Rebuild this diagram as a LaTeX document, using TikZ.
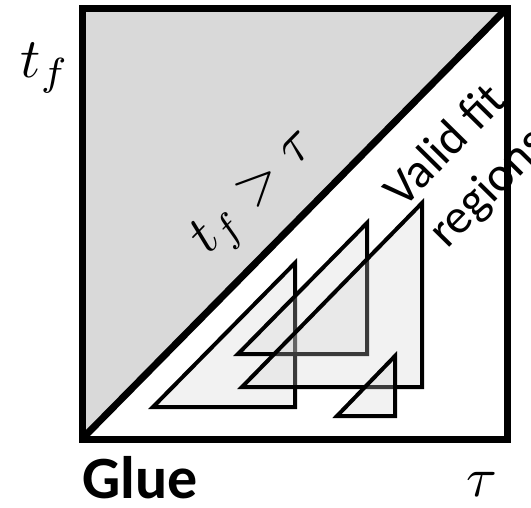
\documentclass[tikz,border=0pt]{standalone}
\usepackage{fontspec}
\setmainfont{Carlito}
\usepackage{tikz}

\begin{document}
\begin{tikzpicture}[x=1pt, y=-1pt,
		rahmen/.style={line width=7pt, line join=miter},
		fitreg/.style={draw=black, line width=4pt, fill=black!18, fill opacity=0.28},
		mathlbl/.style={inner sep=0pt, scale=5.6},
		txtlbl/.style={inner sep=0pt, font=\fontsize{49}{60}\selectfont}]
		%Bildbereich
		\useasboundingbox (0,0) rectangle (531,507);
		% Ecken des Quadrats
		\coordinate (ul) at (82,8);
		\coordinate (ur) at (507,8);
		\coordinate (lr) at (507,439);
		\coordinate (ll) at (82,439);
		%Bereich t_f > tau
		\fill[black!15] (ll) -- (ul) -- (ur) -- cycle;
		%Fit-Bereiche zeichnen
		\foreach \x/\y/\w/\h in {295/407/142/144, 367/354/129/131, 422/387/180/184, 395/416/58/60}
			\filldraw[fitreg] (\x,\y) -- (\x-\w,\y) -- (\x,\y-\h) -- cycle;
		% Beschriftungen
		\node[mathlbl] (tf) at (45,68) {$t_f$};
		\node[mathlbl] (tau) at (482,484) {$\tau$};
		\node[inner sep=0pt, font=\fontsize{60}{64}\selectfont\bfseries] (glue) at (140,478) {Glue};
		\node[mathlbl, rotate=45.4] (cond) at (256,194) {$t_f > \tau$};
		\node[txtlbl, rotate=45.4, align=center] (valid) at (468,168) {Valid fit\\regions};
		%Rahmen und Diagonale
		\draw[rahmen] (ul) -- (ur) -- (lr) -- (ll) -- cycle;
		\draw[rahmen] (ll) -- (ur);
	\end{tikzpicture}
\end{document}
